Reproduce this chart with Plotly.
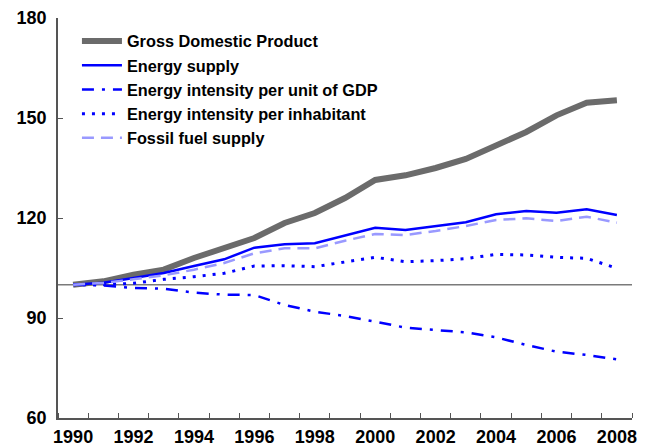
import plotly.graph_objects as go

years = list(range(1990, 2009))
gdp = [100, 101, 103, 104.5, 108, 111, 114, 118.5, 121.5, 126, 131.4, 132.8, 135, 137.7, 142, 145.8, 150.8, 154.6, 155.3]
energy_supply = [100, 100.6, 102, 103.5, 105.6, 107.6, 111.1, 112.1, 112.4, 114.7, 117.1, 116.4, 117.6, 118.7, 121.1, 122.1, 121.6, 122.6, 120.9]
intensity_gdp = [100, 99.8, 99.0, 98.8, 97.6, 97.0, 96.9, 93.9, 91.9, 90.6, 88.9, 87.1, 86.4, 85.7, 84.2, 81.9, 79.9, 78.9, 77.6]
intensity_inhab = [100, 100, 100.4, 101.6, 102.4, 103.4, 105.6, 105.7, 105.4, 106.8, 108.2, 106.9, 107.2, 107.8, 109.1, 108.9, 108.2, 107.9, 104.9]
fossil = [100, 100.5, 101.6, 102.8, 104.5, 106.5, 109.4, 110.9, 110.9, 113.2, 115.2, 114.9, 116.1, 117.6, 119.4, 119.9, 119.1, 120.4, 118.6]
baseline = 100
y_ticks = [60, 90, 120, 150, 180]
x_tick_years = list(range(1990, 2009, 2))

FONT = "Liberation Sans"
fig = go.Figure()
fig.add_hline(y=baseline, line=dict(color="#7a7a7a", width=1.5), layer="below")

fig.add_trace(go.Scatter(x=years, y=gdp, mode="lines", name="Gross Domestic Product",
                         line=dict(color="#6b6b6b", width=6)))
fig.add_trace(go.Scatter(x=years, y=energy_supply, mode="lines", name="Energy supply",
                         line=dict(color="#0000ff", width=2.5)))
fig.add_trace(go.Scatter(x=years, y=intensity_gdp, mode="lines", name="Energy intensity per unit of GDP",
                         line=dict(color="#0000ff", width=2.5, dash="12px,8px,3px,8px")))
fig.add_trace(go.Scatter(x=years, y=intensity_inhab, mode="lines", name="Energy intensity per inhabitant",
                         line=dict(color="#0000ff", width=3, dash="3px,7px")))
fig.add_trace(go.Scatter(x=years, y=fossil, mode="lines", name="Fossil fuel supply",
                         line=dict(color="#9999ff", width=2.5, dash="12px,7px")))

fig.update_layout(
    width=650, height=446,
    margin=dict(l=58, r=18, t=18, b=28, autoexpand=False),
    paper_bgcolor="white", plot_bgcolor="white",
    font=dict(family=FONT, color="black"),
    showlegend=True,
    legend=dict(x=0.033, y=0.985, xanchor="left", yanchor="top",
                font=dict(family=FONT, size=16.3, color="black", weight="bold"),
                bgcolor="rgba(0,0,0,0)", itemwidth=40, tracegroupgap=0),
)
fig.update_xaxes(
    range=[1989.5, 2008.5], tickmode="array", tickvals=x_tick_years,
    ticktext=[str(v) for v in x_tick_years], automargin=False,
    showgrid=False, zeroline=False, showline=True, linecolor="#555", linewidth=1.5,
    ticks="", tickfont=dict(family=FONT, size=18, color="black", weight="bold"),
    ticklabelstandoff=2,
    minor=dict(tickmode="linear", tick0=1989.5, dtick=1, ticks="inside", ticklen=5,
               tickcolor="#555", tickwidth=1, showgrid=False),
)
fig.update_yaxes(
    range=[60, 180], tickmode="array", tickvals=y_ticks, automargin=False,
    showgrid=False, zeroline=False, showline=True, linecolor="#555", linewidth=1.5,
    ticks="inside", ticklen=5, tickcolor="#555", tickwidth=1,
    tickfont=dict(family=FONT, size=18, color="black", weight="bold"),
    ticklabelstandoff=6,
)
fig.write_html("out.html", config={"displayModeBar": False},
               post_script="document.body.style.margin='0';document.body.style.overflow='hidden';")
